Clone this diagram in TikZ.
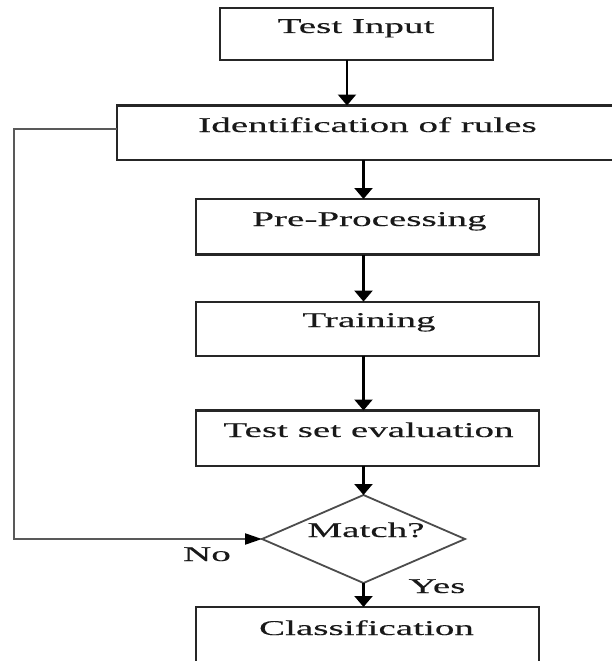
\documentclass[tikz,border=0pt]{standalone}
\usepackage{fontspec}
\setmainfont{Liberation Serif}[FakeStretch=1.86,FakeBold=0.25]
\usetikzlibrary{arrows.meta,shapes.geometric}
\begin{document}
\begin{tikzpicture}[x=1pt,y=-1pt,
  box/.style={draw=black!85, line width=2.2pt, inner sep=0pt, outer sep=0pt},
  lbl/.style={anchor=base, inner sep=0pt, outer sep=0pt, font=\fontsize{21pt}{25pt}\selectfont, text=black!90},
  arr/.style={draw=black, line width=2.2pt, -{Triangle[width=18pt,length=11pt]}},
  harr/.style={draw=black!65, line width=2.2pt, -{Triangle[width=11pt,length=17pt,fill=black,color=black]}},
  dia/.style={diamond, draw=black!70, line width=1.8pt, inner sep=0pt, outer sep=0pt}]
\useasboundingbox (0,0) rectangle (611,661);
\fill[white] (0,0) rectangle (611,661);
% boxes
\node[box, minimum width=273pt, minimum height=52pt] (ti) at (356.5,34) {};
\node[box, minimum width=499pt, minimum height=54.5pt] (id) at (366.5,132.75) {};
\node[box, minimum width=343pt, minimum height=55.5pt] (pre) at (367.5,226.75) {};
\node[box, minimum width=343pt, minimum height=54pt] (tr) at (367.5,328.6) {};
\node[box, minimum width=343pt, minimum height=55.5pt] (te) at (367.5,438.25) {};
\node[dia, minimum width=203pt, minimum height=88pt] (match) at (363.5,539) {};
\node[box, minimum width=343pt, minimum height=60pt] (cl) at (367.5,637) {};
% texts
\node[lbl] (tTI) at (356,33) {Test Input};
\node[lbl] (tID) at (367.5,132) {Identification of rules};
\node[lbl] (tPre) at (369.5,226) {Pre-Processing};
\node[lbl] (tTr) at (369,327) {Training};
\node[lbl] (tTe) at (368.5,437) {Test set evaluation};
\node[lbl] (tM) at (366,537) {Match?};
\node[lbl] (tNo) at (207,561) {No};
\node[lbl] (tYes) at (437,593) {Yes};
\node[lbl] (tCl) at (366.5,635) {Classification};
% connectors
\draw[arr] ([xshift=-9.5pt]ti.south) -- ([xshift=-9.5pt]ti.south |- id.north);
\draw[arr] ([xshift=-4pt]id.south -| pre.north) -- ([xshift=-4pt]pre.north);
\draw[arr] ([xshift=-4pt]pre.south) -- ([xshift=-4pt]tr.north);
\draw[arr] ([xshift=-4pt]tr.south) -- ([xshift=-4pt]te.north);
\draw[arr] (match.north |- te.south) -- (match.north);
\draw[arr] (match.south) -- (match.south |- cl.north);
\coordinate (lc) at (14,539);
\draw[harr] ([yshift=3.75pt]id.west) -| (lc) -- (match.west);
\end{tikzpicture}
\end{document}
